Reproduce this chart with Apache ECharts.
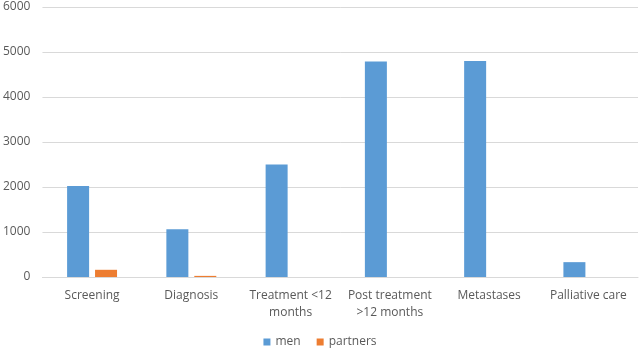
<!DOCTYPE html>
<html>
<head>
<meta charset="utf-8">
<script src="https://cdn.jsdelivr.net/npm/echarts@6/dist/echarts.min.js"></script>
<style>
  html, body { margin: 0; padding: 0; background: #fff; }
  #chart { width: 640px; height: 349px; }
</style>
</head>
<body>
<div id="chart"></div>
<script>
// 类别与数据
const categories = ['Screening', 'Diagnosis', 'Treatment <12\nmonths', 'Post treatment\n>12 months', 'Metastases', 'Palliative care']
const menValues = [2020, 1060, 2500, 4790, 4800, 330]
const partnerValues = [160, 25, 0, 0, 0, 0]
const yTicks = [0, 1000, 2000, 3000, 4000, 5000, 6000]

const chart = echarts.init(document.getElementById('chart'))

const textStyle = { color: '#595959', fontFamily: 'Open Sans', fontSize: 12 }

const option = {
  animation: false,
  textStyle: textStyle,
  grid: { left: 41, right: 2, top: 7, bottom: 72 },
  legend: {
    top: 331,
    left: 'center',
    itemWidth: 7,
    itemHeight: 7,
    itemGap: 16,
    icon: 'rect',
    textStyle: textStyle,
    data: ['men', 'partners']
  },
  xAxis: {
    type: 'category',
    data: categories,
    axisTick: { show: false },
    axisLine: { lineStyle: { color: '#d9d9d9' } },
    axisLabel: { ...textStyle, margin: 10, lineHeight: 17, interval: 0 }
  },
  yAxis: {
    type: 'value',
    min: yTicks[0],
    max: yTicks[yTicks.length - 1],
    interval: 1000,
    axisLine: { show: false },
    axisTick: { show: false },
    splitLine: { lineStyle: { color: '#d9d9d9' } },
    axisLabel: { ...textStyle, margin: 12, formatter: v => String(v) }
  },
  series: [
    {
      name: 'men',
      type: 'bar',
      data: menValues,
      barWidth: 22,
      barGap: '27%',
      itemStyle: { color: '#5b9bd5' }
    },
    {
      name: 'partners',
      type: 'bar',
      data: partnerValues,
      barWidth: 22,
      itemStyle: { color: '#ed7d31' }
    }
  ]
}
chart.setOption(option)
</script>
</body>
</html>
